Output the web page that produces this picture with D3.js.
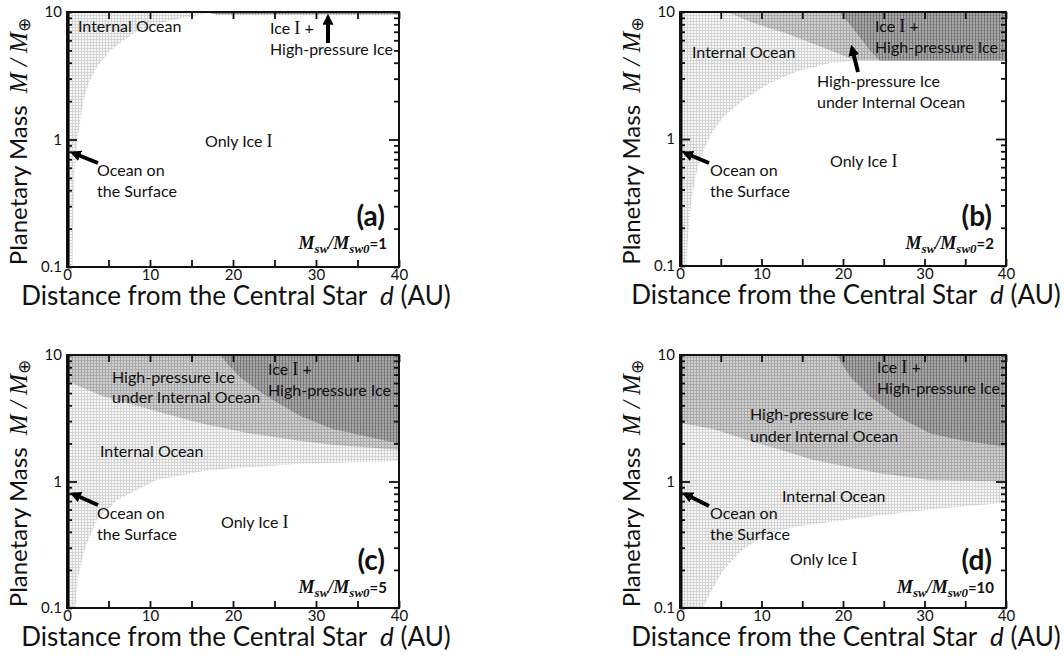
<!DOCTYPE html>
<html>
<head>
<meta charset="utf-8">
<script src="https://cdn.jsdelivr.net/npm/d3@7"></script>
<style>
body { margin: 0; background: #fff; }
svg text { font-family: Lato, "Open Sans", sans-serif; fill: #111; }
</style>
</head>
<body>
<svg id="chart" width="1064" height="658"></svg>
<script>
// axis values
const distTicks = [0, 5, 10, 15, 20, 25, 30, 35, 40];
const distLabels = [0, 10, 20, 30, 40];
const massTicks = [0.1, 0.2, 0.3, 0.4, 0.5, 0.6, 0.7, 0.8, 0.9, 1, 2, 3, 4, 5, 6, 7, 8, 9, 10];
const massLabels = [0.1, 1, 10];
const waterRatios = [1, 2, 5, 10];
const panelTags = ['(a)', '(b)', '(c)', '(d)'];

// outer edge of the surface ocean (AU)
const surfaceEdge = [0.3, 0.3, 0.3, 0.3];

// lower edge of the internal ocean, [d (AU), M (M_earth)]
const oceanA = [[0, 0.1], [0.65, 0.1], [0.72, 0.19], [0.95, 0.6], [1.35, 1.1], [2.0, 2.05], [2.6, 2.75], [3.6, 3.7], [5.2, 5.0], [8.0, 6.8], [12.5, 8.6], [17.8, 10]];
const oceanB = [[0, 0.1], [0.8, 0.1], [1.0, 0.18], [1.4, 0.33], [2.0, 0.54], [2.9, 0.82], [3.9, 1.11], [5.3, 1.5], [7.8, 2.04], [11.0, 2.75], [14.3, 3.4], [18.4, 3.95], [21.5, 4.15]];
const oceanC = [[0, 0.1], [1.0, 0.1], [1.35, 0.18], [2.2, 0.3], [3.6, 0.5], [6.0, 0.71], [10.8, 1.03], [16.9, 1.23], [28.1, 1.38], [40, 1.45]];
const oceanD = [[0, 0.1], [2.8, 0.1], [3.9, 0.138], [5.3, 0.2], [7.7, 0.29], [11, 0.39], [14.3, 0.44], [22.5, 0.52], [30.7, 0.6], [40, 0.68]];

// lower edge of high-pressure ice under the internal ocean
const hpOceanA = [];
const hpOceanB = [[5.8, 10], [9, 8.2], [13, 6.8], [18.4, 5.0], [21.5, 4.15], [40, 4.15]];
const hpOceanC = [[0, 6.2], [0.6, 6.0], [4, 4.8], [10, 3.7], [16, 2.9], [22, 2.4], [28, 2.1], [32, 1.95], [40, 1.78]];
const hpOceanD = [[0, 2.9], [4.1, 2.6], [8.2, 2.13], [12.3, 1.78], [16.4, 1.48], [20.5, 1.31], [24.5, 1.16], [30.7, 1.03], [40, 1.0]];

// lower edge of ice I + high-pressure ice
const iceHpA = [[16.5, 10], [18, 9.55], [40, 9.55]];
const iceHpB = [[19.6, 10], [21.7, 6.8], [23.3, 5.0], [24.5, 4.15], [40, 4.15]];
const iceHpC = [[18.4, 10], [20.8, 6.7], [24.1, 4.7], [28.1, 3.3], [32, 2.6], [40, 2.0]];
const iceHpD = [[19.2, 10], [20.9, 6.7], [23.3, 4.7], [26.6, 3.3], [30.7, 2.4], [34.8, 2.1], [40, 1.88]];

const svg = d3.select('#chart');
const defs = svg.append('defs');

function addPattern(id, bg, hLine, vLine){
    let p = defs.append('pattern')
                .attr('id', id)
                .attr('width', 3)
                .attr('height', 3)
                .attr('patternUnits', 'userSpaceOnUse');
    p.append('rect').attr('width', 3).attr('height', 3).attr('fill', bg);
    p.append('rect').attr('width', 3).attr('height', 1).attr('fill', hLine);
    p.append('rect').attr('width', 1).attr('height', 3).attr('fill', vLine);
}
addPattern('light', '#f6f6f6', '#d4d4d4', '#d4d4d4');
addPattern('medium', '#d0d0d0', '#aaaaaa', '#aaaaaa');
addPattern('dark', '#a8a8a8', '#8e8e8e', '#767676');

defs.append('marker')
    .attr('id', 'head')
    .attr('viewBox', '0 0 10 10')
    .attr('refX', 7)
    .attr('refY', 5)
    .attr('markerUnits', 'userSpaceOnUse')
    .attr('markerWidth', 11)
    .attr('markerHeight', 11)
    .attr('orient', 'auto')
    .append('path')
    .attr('d', 'M0,0 L10,5 L0,10 z')
    .attr('fill', '#000');

const oceanLabel = [['Ocean on', 30, 164], ['the Surface', 30, 185]];

const panels = [
    {x: 67, y: 12, w: 332, h: 255, ocean: oceanA, hp: hpOceanA, ice: iceHpA,
     labels: [['Internal Ocean', 11, 20], ['Ice Ⅰ +', 203, 22], ['High-pressure Ice', 203, 43], ['Only Ice Ⅰ', 138, 135]],
     arrows: [[261, 31, 261, 5], [31, 151, 6, 141]], tagY: 214},
    {x: 680, y: 12, w: 326, h: 254, ocean: oceanB, hp: hpOceanB, ice: iceHpB,
     labels: [['Internal Ocean', 12, 46], ['Ice Ⅰ +', 195, 20], ['High-pressure Ice', 195, 41],
              ['High-pressure Ice', 137, 75], ['under Internal Ocean', 137, 96], ['Only Ice Ⅰ', 150, 155]],
     arrows: [[178, 60, 172, 36], [29, 151, 5, 141]], tagY: 214},
    {x: 67, y: 355, w: 332, h: 253, ocean: oceanC, hp: hpOceanC, ice: iceHpC,
     labels: [['High-pressure Ice', 45, 28], ['under Internal Ocean', 45, 48], ['Ice Ⅰ +', 201, 20], ['High-pressure Ice', 201, 41],
              ['Internal Ocean', 33, 102], ['Only Ice Ⅰ', 154, 173]],
     arrows: [[31, 150, 6, 139]], tagY: 215},
    {x: 680, y: 355, w: 326, h: 253, ocean: oceanD, hp: hpOceanD, ice: iceHpD,
     labels: [['Ice Ⅰ +', 197, 18], ['High-pressure Ice', 197, 39], ['High-pressure Ice', 70, 65],
              ['under Internal Ocean', 70, 87], ['Internal Ocean', 102, 147], ['Only Ice Ⅰ', 110, 210]],
     arrows: [[29, 151, 5, 139]], tagY: 215}
];

function addLabel(g, str, x, y){
    let t = g.append('text').attr('x', x).attr('y', y).style('font-size', '16px');
    str.split(/(Ⅰ)/).forEach(function(part){
        if (part === 'Ⅰ'){
            t.append('tspan').style('font-family', '"Liberation Serif", serif').style('font-size', '18px').text('I');
        }
        else if (part.length){
            t.append('tspan').text(part);
        }
    });
}

function drawPanel(p, i){
    let x = d3.scaleLinear().domain([0, 40]).range([p.x, p.x + p.w]);
    let y = d3.scaleLog().domain([0.1, 10]).range([p.y + p.h, p.y]);
    let g = svg.append('g');

    g.append('clipPath').attr('id', 'clip' + i)
     .append('rect').attr('x', p.x).attr('y', p.y).attr('width', p.w).attr('height', p.h);

    let regions = g.append('g').attr('clip-path', 'url(#clip' + i + ')');
    let area = d3.area()
                 .x(function(d){return x(d[0]);})
                 .y0(y(10))
                 .y1(function(d){return y(d[1]);});

    [[p.ocean, 'light'], [p.hp, 'medium'], [p.ice, 'dark']].forEach(function(r){
        if (r[0].length){
            regions.append('path').datum(r[0]).attr('d', area).attr('fill', 'url(#' + r[1] + ')');
        }
    });
    regions.append('rect')
           .attr('x', x(0))
           .attr('y', p.y)
           .attr('width', x(surfaceEdge[i]) - x(0))
           .attr('height', p.h)
           .attr('fill', '#000');

    // axes with inward ticks
    let bottom = g.append('g').attr('transform', 'translate(0,' + (p.y + p.h) + ')')
                  .call(d3.axisBottom(x).tickValues(distTicks).tickSize(-7).tickPadding(2)
                        .tickFormat(function(d){return distLabels.includes(d) ? d : '';}));
    let top = g.append('g').attr('transform', 'translate(0,' + p.y + ')')
               .call(d3.axisTop(x).tickValues(distTicks).tickSize(-7).tickFormat(''));
    let left = g.append('g').attr('transform', 'translate(' + p.x + ',0)')
                .call(d3.axisLeft(y).tickValues(massTicks).tickSize(-5).tickPadding(5)
                      .tickFormat(function(d){return massLabels.includes(d) ? d : '';}));
    let right = g.append('g').attr('transform', 'translate(' + (p.x + p.w) + ',0)')
                 .call(d3.axisRight(y).tickValues(massTicks).tickSize(-5).tickFormat(''));
    left.selectAll('.tick line').filter(function(d){return d === 1;}).attr('x2', 10);
    right.selectAll('.tick line').filter(function(d){return d === 1;}).attr('x2', -10);

    [bottom, top, left, right].forEach(function(a){
        a.select('.domain').remove();
        a.selectAll('.tick line').attr('stroke', '#111').attr('stroke-width', 1.8);
        a.selectAll('text').filter(function(){return this.textContent === '';}).remove();
        a.selectAll('text').style('font-family', 'Lato, sans-serif').style('font-size', '15px').attr('fill', '#111');
    });

    g.append('rect')
     .attr('x', p.x).attr('y', p.y).attr('width', p.w).attr('height', p.h)
     .attr('fill', 'none').attr('stroke', '#111').attr('stroke-width', 2);

    // region labels
    let lab = g.append('g').attr('transform', 'translate(' + p.x + ',' + p.y + ')');
    p.labels.concat(oceanLabel).forEach(function(l){addLabel(lab, l[0], l[1], l[2]);});
    p.arrows.forEach(function(a){
        lab.append('line')
           .attr('x1', a[0]).attr('y1', a[1]).attr('x2', a[2]).attr('y2', a[3])
           .attr('stroke', '#000').attr('stroke-width', 4)
           .attr('marker-end', 'url(#head)');
    });

    lab.append('text')
       .attr('x', p.w - 14).attr('y', p.tagY)
       .attr('text-anchor', 'end')
       .style('font-size', '28px').style('font-weight', 'bold')
       .text(panelTags[i]);

    let ratio = lab.append('text')
                   .attr('x', p.w - 12).attr('y', p.tagY + 23)
                   .attr('text-anchor', 'end')
                   .style('font-family', '"Liberation Serif", serif')
                   .style('font-weight', 'bold').style('font-style', 'italic')
                   .style('font-size', '18px');
    ratio.append('tspan').text('M');
    ratio.append('tspan').attr('dy', 4).style('font-size', '13px').text('sw');
    ratio.append('tspan').attr('dy', -4).text('/M');
    ratio.append('tspan').attr('dy', 4).style('font-size', '13px').text('sw0');
    ratio.append('tspan').attr('dy', -4).style('font-family', 'Lato, sans-serif').style('font-style', 'normal')
         .style('font-size', '15px').text('=' + waterRatios[i]);

    // axis titles
    let xt = g.append('text')
              .attr('x', p.x + p.w / 2 + 3).attr('y', p.y + p.h + 38)
              .attr('text-anchor', 'middle')
              .style('font-size', '26px');
    xt.append('tspan').text('Distance from the Central Star\u00a0\u00a0');
    xt.append('tspan').style('font-style', 'italic').text('d');
    xt.append('tspan').text('\u00a0(AU)');

    let yt = g.append('text')
              .attr('transform', 'translate(' + (p.x - 40) + ',' + (p.y + p.h / 2 + 2) + ') rotate(-90)')
              .attr('text-anchor', 'middle')
              .style('font-size', '24px');
    yt.append('tspan').text('Planetary Mass\u00a0\u00a0');
    yt.append('tspan').style('font-family', '"Liberation Serif", serif').style('font-style', 'italic')
      .style('font-size', '25px').text('M / M');
    yt.append('tspan').attr('dy', 3).style('font-family', '"DejaVu Sans", sans-serif')
      .style('font-size', '17px').text('⊕');
}

panels.forEach(drawPanel);
</script>
</body>
</html>
